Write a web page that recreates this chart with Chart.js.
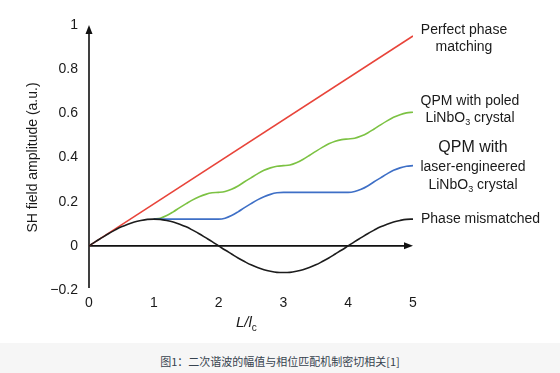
<!DOCTYPE html>
<html>
<head>
<meta charset="utf-8">
<script src="https://cdn.jsdelivr.net/npm/chart.js@4/dist/chart.umd.min.js"></script>
<style>
  body { margin: 0; background: #fff; width: 560px; height: 373px; overflow: hidden; }
  #wrap { position: relative; width: 560px; height: 343px; }
  #chart { position: absolute; left: 0; top: 0; }
  .lbl { position: absolute; font-family: "Liberation Sans", Arial, sans-serif; font-size: 14px; color: #1a1a1a; text-align: center; width: 140px; line-height: 17px; white-space: nowrap; }
  .lbl sub { font-size: 9px; vertical-align: -3px; line-height: 0; }
  #xtitle { position: absolute; left: 236px; top: 313px; font-family: "Liberation Sans", Arial, sans-serif; font-size: 15px; font-style: italic; color: #1a1a1a; }
  #xtitle sub { font-size: 10px; vertical-align: -4px; line-height: 0; font-style: normal; }
  #caption { height: 30px; background: #f6f6f6; text-align: center; line-height: 36px; font-family: "Noto Sans CJK SC", sans-serif; font-size: 11px; color: #37434f; }
</style>
</head>
<body>
<div id="wrap">
  <canvas id="chart" width="560" height="343"></canvas>
  <div class="lbl" style="left:394px; top:21px;">Perfect phase<br>matching</div>
  <div class="lbl" style="left:400px; top:92px;">QPM with poled<br>LiNbO<sub>3</sub> crystal</div>
  <div class="lbl" style="left:403px; top:137px;"><span style="font-size:16px; line-height:20px; display:block;">QPM with</span><span style="display:block; line-height:18px;">laser-engineered</span><span style="display:block; line-height:18px;">LiNbO<sub>3</sub> crystal</span></div>
  <div class="lbl" style="left:421px; top:210px; text-align:left;">Phase mismatched</div>
  <div id="xtitle">L/l<sub>c</sub></div>
</div>
<div id="caption">图1：二次谐波的幅值与相位匹配机制密切相关[1]</div>
<script>
// Data (L in units of the coherence length lc)
const perfectL = [0, 5];
const perfectAmp = [0, 0.95];

const mismatchL = [0, 0.1, 0.2, 0.3, 0.4, 0.5, 0.6, 0.7, 0.8, 0.9,
  1, 1.1, 1.2, 1.3, 1.4, 1.5, 1.6, 1.7, 1.8, 1.9,
  2, 2.1, 2.2, 2.3, 2.4, 2.5, 2.6, 2.7, 2.8, 2.9,
  3, 3.1, 3.2, 3.3, 3.4, 3.5, 3.6, 3.7, 3.8, 3.9,
  4, 4.1, 4.2, 4.3, 4.4, 4.5, 4.6, 4.7, 4.8, 4.9, 5];
const mismatchAmp = [0, 0.019, 0.037, 0.055, 0.071, 0.086, 0.098, 0.108, 0.115, 0.120,
  0.121, 0.120, 0.115, 0.108, 0.098, 0.086, 0.071, 0.055, 0.037, 0.019,
  0, -0.019, -0.037, -0.055, -0.071, -0.086, -0.098, -0.108, -0.115, -0.120,
  -0.121, -0.120, -0.115, -0.108, -0.098, -0.086, -0.071, -0.055, -0.037, -0.019,
  0, 0.019, 0.037, 0.055, 0.071, 0.086, 0.098, 0.108, 0.115, 0.120, 0.121];

const qpmL = [1, 1.1, 1.2, 1.3, 1.4, 1.5, 1.6, 1.7, 1.8, 1.9,
  2, 2.1, 2.2, 2.3, 2.4, 2.5, 2.6, 2.7, 2.8, 2.9,
  3, 3.1, 3.2, 3.3, 3.4, 3.5, 3.6, 3.7, 3.8, 3.9,
  4, 4.1, 4.2, 4.3, 4.4, 4.5, 4.6, 4.7, 4.8, 4.9, 5];
const poledAmp = [0.121, 0.125, 0.137, 0.154, 0.173, 0.191, 0.208, 0.222, 0.233, 0.240,
  0.242, 0.246, 0.256, 0.271, 0.290, 0.308, 0.326, 0.342, 0.353, 0.360,
  0.363, 0.366, 0.376, 0.391, 0.409, 0.428, 0.446, 0.462, 0.474, 0.481,
  0.484, 0.487, 0.497, 0.511, 0.529, 0.548, 0.566, 0.582, 0.594, 0.602, 0.605];
const laserAmp = [0.121, 0.121, 0.121, 0.121, 0.121, 0.121, 0.121, 0.121, 0.121, 0.121,
  0.121, 0.125, 0.137, 0.154, 0.173, 0.191, 0.208, 0.222, 0.233, 0.240,
  0.242, 0.242, 0.242, 0.242, 0.242, 0.242, 0.242, 0.242, 0.242, 0.242,
  0.242, 0.246, 0.256, 0.271, 0.290, 0.308, 0.326, 0.342, 0.353, 0.360, 0.363];

const xTicks = [0, 1, 2, 3, 4, 5];
const yTicks = [-0.2, 0, 0.2, 0.4, 0.6, 0.8, 1];

// Helpers
function toPoints(xs, ys) {
  return xs.map((x, i) => ({ x: x, y: ys[i] }));
}

function yTickLabel(v) {
  if (v < 0) return '\u2212' + Math.abs(v).toString();
  return v.toString();
}

// Axis lines with arrow heads
const axisArrows = {
  id: 'axisArrows',
  beforeDatasetsDraw(chart) {
    const { ctx, scales: { x, y } } = chart;
    const x0 = x.getPixelForValue(0);
    const xEnd = x.getPixelForValue(5);
    const y0 = y.getPixelForValue(0);
    const yTop = y.getPixelForValue(1);
    const yBot = y.getPixelForValue(-0.2);
    ctx.save();
    ctx.strokeStyle = '#111';
    ctx.fillStyle = '#111';
    ctx.lineWidth = 1.6;

    ctx.beginPath();
    ctx.moveTo(x0, yBot - 2);
    ctx.lineTo(x0, yTop + 6);
    ctx.moveTo(x0, y0);
    ctx.lineTo(xEnd - 6, y0);
    ctx.stroke();

    ctx.beginPath();
    ctx.moveTo(x0, yTop);
    ctx.lineTo(x0 - 3.5, yTop + 9);
    ctx.lineTo(x0 + 3.5, yTop + 9);
    ctx.closePath();
    ctx.fill();

    ctx.beginPath();
    ctx.moveTo(xEnd, y0);
    ctx.lineTo(xEnd - 9, y0 - 3.5);
    ctx.lineTo(xEnd - 9, y0 + 3.5);
    ctx.closePath();
    ctx.fill();
    ctx.restore();
  }
};

const lineStyle = {
  pointRadius: 0,
  borderWidth: 1.6,
  fill: false,
  cubicInterpolationMode: 'monotone'
};

const tickFont = { family: '"Liberation Sans", Arial, sans-serif', size: 14 };

const ctx = document.getElementById('chart').getContext('2d');
new Chart(ctx, {
  type: 'line',
  data: {
    datasets: [
      { label: 'Phase mismatched', data: toPoints(mismatchL, mismatchAmp), borderColor: '#1c1c1c', ...lineStyle },
      { label: 'QPM with laser-engineered LiNbO3 crystal', data: toPoints(qpmL, laserAmp), borderColor: '#3e6fc6', ...lineStyle },
      { label: 'QPM with poled LiNbO3 crystal', data: toPoints(qpmL, poledAmp), borderColor: '#7cc243', ...lineStyle },
      { label: 'Perfect phase matching', data: toPoints(perfectL, perfectAmp), borderColor: '#e8443a', ...lineStyle }
    ]
  },
  options: {
    responsive: false,
    animation: false,
    layout: { padding: { top: 25, right: 147, bottom: 0, left: 0 } },
    plugins: {
      legend: { display: false },
      tooltip: { enabled: false }
    },
    scales: {
      x: {
        type: 'linear',
        min: 0,
        max: 5,
        border: { display: false },
        grid: { display: false, drawTicks: false },
        afterBuildTicks: (scale) => { scale.ticks = xTicks.map(v => ({ value: v })); },
        afterFit: (scale) => { scale.height = 53; },
        ticks: {
          padding: 5,
          color: '#1a1a1a',
          font: tickFont,
          callback: (v) => v.toString()
        }
      },
      y: {
        type: 'linear',
        min: -0.2,
        max: 1,
        border: { display: false },
        grid: { display: false, drawTicks: false },
        afterBuildTicks: (scale) => { scale.ticks = yTicks.map(v => ({ value: v })); },
        afterFit: (scale) => { scale.width = 89; },
        ticks: {
          padding: 11,
          color: '#1a1a1a',
          font: tickFont,
          callback: (v) => yTickLabel(v)
        },
        title: {
          display: true,
          text: 'SH field amplitude (a.u.)',
          color: '#1a1a1a',
          font: tickFont,
          padding: { top: 25, bottom: 0 }
        }
      }
    }
  },
  plugins: [axisArrows]
});
</script>
</body>
</html>
